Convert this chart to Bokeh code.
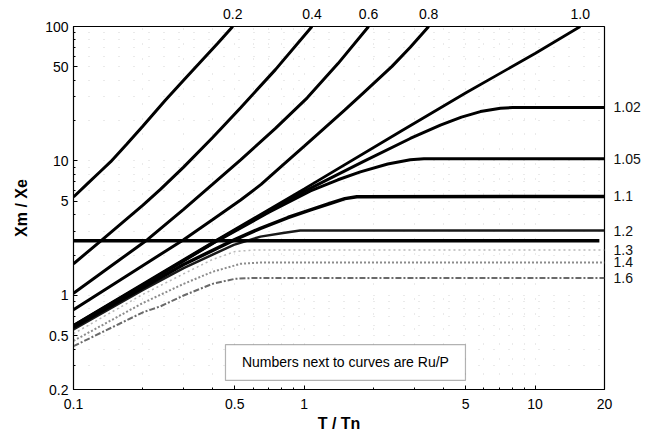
from bokeh.plotting import figure
from bokeh.models import BoxAnnotation, FixedTicker, CustomJSTickFormatter, LogAxis, Label
from bokeh.embed import file_html
from bokeh.resources import INLINE

# ---- data (T/Tn vs Xm/Xe, curves labelled by Ru/P) ----
x_02 = [0.1, 0.115, 0.13, 0.145, 0.17, 0.2, 0.25, 0.3, 0.35, 0.42, 0.49]
y_02 = [5.4, 6.78, 8.28, 9.88, 13.3, 18.2, 28.3, 39.8, 53.0, 74.5, 100.0]

x_04 = [0.1, 0.131, 0.2, 0.238, 0.3, 0.4, 0.53, 0.75, 1.08]
y_04 = [1.72, 2.54, 4.70, 6.15, 9.0, 14.9, 24.9, 47.8, 100.0]

x_06 = [0.1, 0.15, 0.209, 0.3, 0.4, 0.53, 0.75, 1.03, 1.4, 1.9]
y_06 = [1.04, 1.72, 2.6, 4.37, 6.7, 10.2, 17.5, 29.5, 53.0, 100.0]

x_08 = [0.1, 0.18, 0.3, 0.4, 0.53, 0.65, 0.8, 1.0, 1.17, 1.5, 1.8, 2.4, 2.88, 3.46]
y_08 = [0.785, 1.49, 2.6, 3.66, 5.13, 6.7, 9.2, 12.9, 16.4, 24.0, 32.0, 50.5, 70.0, 100.0]

x_10 = [0.1, 0.2, 0.42, 1.0, 2.6, 5.0, 10.0, 15.7]
y_10 = [0.6, 1.22, 2.6, 6.2, 16.5, 32.0, 63.0, 100.0]

x_102 = [0.1, 0.2, 0.42, 1.0, 1.8, 2.88, 3.89, 4.8, 5.8, 7.08, 8.0, 20.0]
y_102 = [0.595, 1.2, 2.57, 5.95, 9.9, 14.7, 18.5, 21.2, 23.3, 24.7, 25.0, 25.0]

x_105 = [0.1, 0.42, 0.7, 1.064, 1.4, 1.75, 2.3, 2.88, 3.3, 20.0]
y_105 = [0.59, 2.55, 4.14, 6.0, 7.25, 8.3, 9.5, 10.2, 10.4, 10.4]

x_11 = [0.1, 0.3, 0.5, 0.646, 0.85, 1.064, 1.3, 1.5, 1.69, 20.0]
y_11 = [0.58, 1.7, 2.6, 3.16, 3.8, 4.33, 4.85, 5.25, 5.43, 5.45]

x_12 = [0.1, 0.2, 0.3, 0.495, 0.646, 0.81, 0.96, 20.0]
y_12 = [0.56, 1.1, 1.6, 2.38, 2.74, 2.92, 3.04, 3.04]

x_13 = [0.1, 0.2, 0.3, 0.4, 0.5, 0.6, 20.0]
y_13 = [0.52, 1.02, 1.45, 1.85, 2.12, 2.18, 2.18]

x_14 = [0.1, 0.2, 0.3, 0.4, 0.53, 0.65, 20.0]
y_14 = [0.46, 0.88, 1.22, 1.5, 1.72, 1.76, 1.76]

x_16 = [0.1, 0.2, 0.238, 0.3, 0.4, 0.5, 0.6, 20.0]
y_16 = [0.42, 0.75, 0.83, 1.0, 1.22, 1.33, 1.35, 1.35]

hline_x = [0.1, 19.0]
hline_y = [2.55, 2.55]

top_labels = ["0.2", "0.4", "0.6", "0.8", "1.0"]
right_labels = ["1.02", "1.05", "1.1", "1.2", "1.3", "1.4", "1.6"]

x_major = [0.1, 0.5, 1, 5, 10, 20]
x_minor = [0.2, 0.3, 0.4, 0.6, 0.7, 0.8, 0.9, 2, 3, 4, 6, 7, 8, 9]
y_major = [0.2, 0.5, 1, 5, 10, 50, 100]
y_minor = [0.3, 0.4, 0.6, 0.7, 0.8, 0.9, 2, 3, 4, 6, 7, 8, 9, 20, 30, 40, 60, 70, 80, 90]

note_text = "Numbers next to curves are Ru/P"

FONT = "Liberation Sans"

p = figure(x_axis_type="log", y_axis_type="log",
           x_range=(0.1, 20), y_range=(0.2, 100),
           frame_width=531, frame_height=363,
           min_border_left=73, min_border_right=47,
           min_border_top=26, min_border_bottom=46,
           output_backend="svg", toolbar_location=None)
p.background_fill_color = "white"
p.border_fill_color = "white"
p.outline_line_color = "black"
p.outline_line_width = 1.2

# axes
fmt = CustomJSTickFormatter(code="return tick.toString();")
p.xaxis.ticker = FixedTicker(ticks=x_major, minor_ticks=x_minor)
p.yaxis.ticker = FixedTicker(ticks=y_major, minor_ticks=y_minor)
for ax in (p.xaxis[0], p.yaxis[0]):
    ax.formatter = fmt
    ax.major_label_text_font = FONT
    ax.major_label_text_font_size = "14px"
    ax.major_label_text_color = "black"
    ax.axis_label_text_font = FONT
    ax.axis_label_text_font_style = "bold"
    ax.axis_label_text_font_size = "16px"
    ax.axis_label_text_color = "black"
    ax.axis_line_color = "black"
    ax.major_tick_in = 4
    ax.major_tick_out = 0
    ax.minor_tick_in = 2
    ax.minor_tick_out = 0
    ax.major_tick_line_color = "black"
    ax.minor_tick_line_color = "black"
p.xaxis.axis_label = "T / Tn"
p.yaxis.axis_label = "Xm / Xe"
p.xaxis.major_label_standoff = 9
p.xaxis.axis_label_standoff = 3
p.yaxis.major_label_standoff = 5
p.yaxis.axis_label_standoff = 12

# faint dotted grid
p.xgrid.ticker = FixedTicker(ticks=sorted(x_major + x_minor))
p.ygrid.ticker = FixedTicker(ticks=sorted(y_major + y_minor))
for g in (p.xgrid[0], p.ygrid[0]):
    g.grid_line_color = "#d4d4d4"
    g.grid_line_dash = "1 14"
    g.grid_line_width = 1

# curves
black_curves = [(x_02, y_02, 3), (x_04, y_04, 3), (x_06, y_06, 3), (x_08, y_08, 3),
                (x_10, y_10, 2.8), (x_102, y_102, 3), (x_105, y_105, 3), (x_11, y_11, 3.5)]
p.line(x_16, y_16, line_color="#6a6a6a", line_width=2, line_dash="6 2 2 2")
p.line(x_14, y_14, line_color="#8c8c8c", line_width=2, line_dash="2 2")
p.line(x_13, y_13, line_color="#b8b8b8", line_width=1.5, line_dash="2 3")
p.line(x_12, y_12, line_color="#1a1a1a", line_width=2.5)
for xs, ys, w in black_curves:
    p.line(xs, ys, line_color="black", line_width=w)
p.line(hline_x, hline_y, line_color="black", line_width=3.5)

# top labels (at the end of each rising curve) via a label-only top axis
top_x = [x_02[-1], x_04[-1], x_06[-1], x_08[-1], x_10[-1]]
top_axis = LogAxis(ticker=FixedTicker(ticks=top_x, minor_ticks=[]),
                   formatter=CustomJSTickFormatter(args=dict(labels=top_labels),
                                                   code="return labels[index];"))
top_axis.axis_line_color = None
top_axis.major_tick_line_color = None
top_axis.minor_tick_line_color = None
top_axis.major_label_standoff = 2
top_axis.major_label_text_font = FONT
top_axis.major_label_text_font_size = "14px"
top_axis.major_label_text_color = "black"
p.add_layout(top_axis, "above")

# right labels (plateau values) via a label-only right axis
right_y = [y_102[-1], y_105[-1], y_11[-1], y_12[-1], y_13[-1], y_14[-1], y_16[-1]]
order = sorted(range(len(right_y)), key=lambda i: right_y[i])
right_axis = LogAxis(ticker=FixedTicker(ticks=[right_y[i] for i in order], minor_ticks=[]),
                     formatter=CustomJSTickFormatter(
                         args=dict(labels=[right_labels[i] for i in order]),
                         code="return labels[index];"))
right_axis.axis_line_color = None
right_axis.major_tick_line_color = None
right_axis.minor_tick_line_color = None
right_axis.major_label_standoff = 3
right_axis.major_label_text_font = FONT
right_axis.major_label_text_font_size = "14px"
right_axis.major_label_text_color = "#111111"
p.add_layout(right_axis, "right")

# note box
p.add_layout(BoxAnnotation(left=0.4556, right=4.995, bottom=0.2335, top=0.4318,
                           fill_color="white", fill_alpha=1.0,
                           line_color="black", line_width=1.2))
p.add_layout(Label(x=1.508, y=0.318, text=note_text, text_align="center",
                   text_baseline="middle", text_font=FONT, text_font_size="14px",
                   text_color="black"))

open("out.html", "w").write(file_html(p, INLINE))
